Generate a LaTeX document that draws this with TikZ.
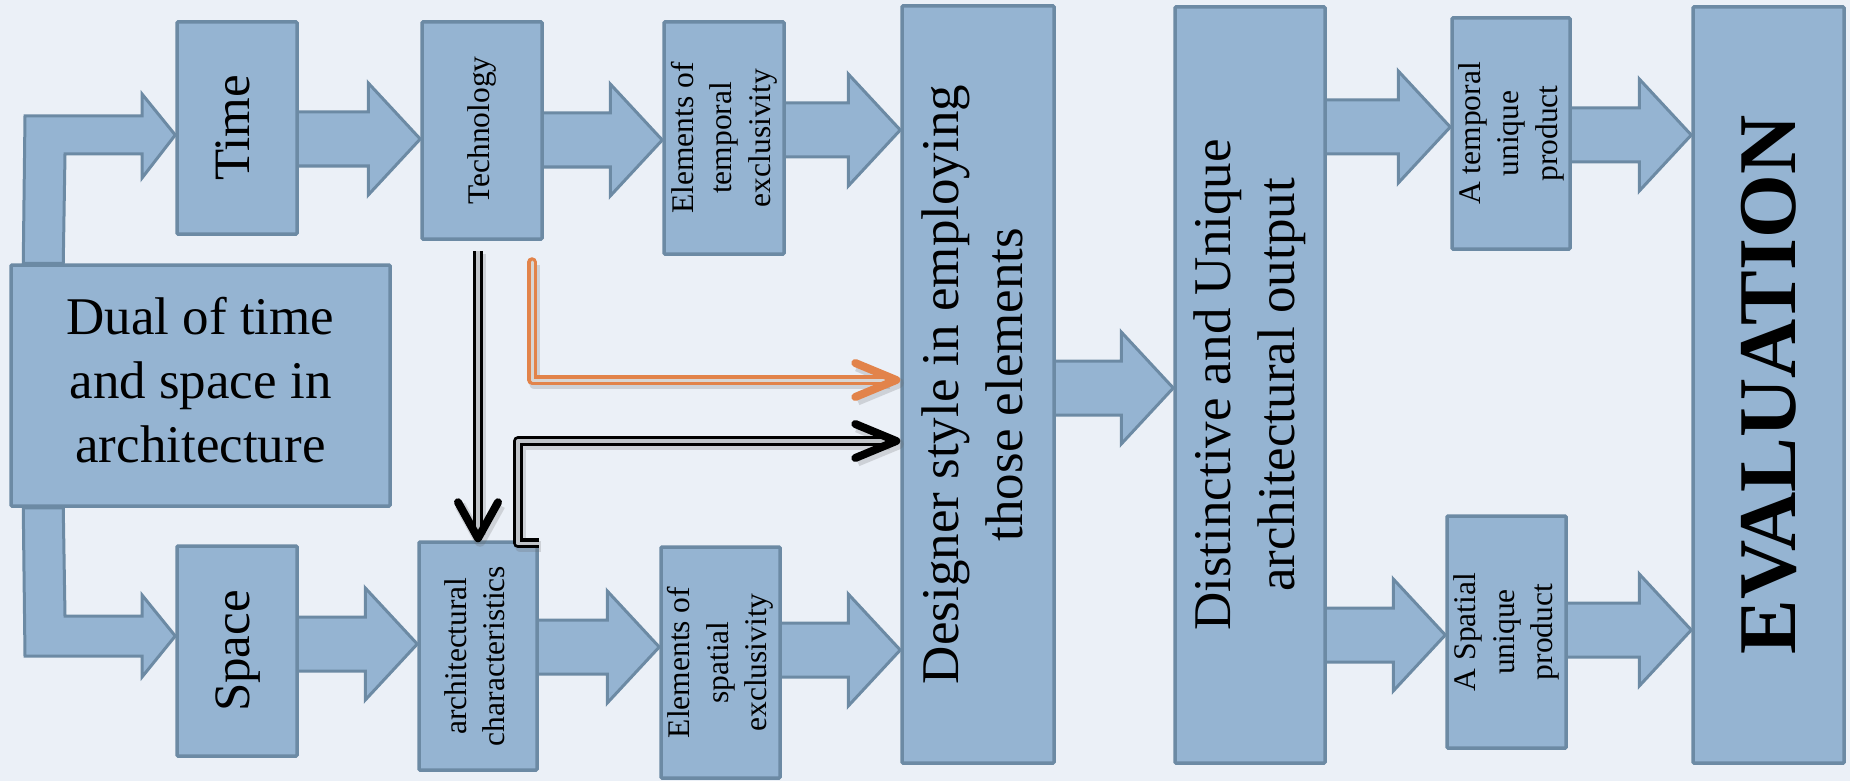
\documentclass[tikz,border=0pt]{standalone}
\usepackage{fontspec}
\setmainfont{Liberation Serif}
\usepackage{graphicx}
\usetikzlibrary{calc}
\definecolor{bgc}{HTML}{EBF0F7}
\definecolor{boxfill}{HTML}{95B4D2}
\definecolor{boxline}{HTML}{6C8AA4}
\definecolor{orng}{HTML}{E2834A}
\definecolor{innergray}{HTML}{BFC3C8}
\definecolor{innerlight}{HTML}{D8D6D4}
\pgfdeclarelayer{back}
\pgfdeclarelayer{arrowsl}
\pgfsetlayers{back,arrowsl,main}
\newcommand{\bigtxt}{\fontsize{53}{64}\selectfont}
\newcommand{\midtxt}{\fontsize{51}{60}\selectfont}
\newcommand{\smalltxt}{\fontsize{31.5}{38.5}\selectfont}
\newcommand{\rlines}[2]{\rotatebox{90}{#1\begin{tabular}{@{}c@{}}#2\end{tabular}}}
\newcommand{\mkbox}[6]{%
  \pgfmathsetmacro\bw{#4-#2}\pgfmathsetmacro\bh{#5-#3}%
  \pgfmathsetmacro\bx{(#2+#4)/2}\pgfmathsetmacro\by{(#3+#5)/2}%
  \node[boxstyle, minimum width=\bw pt, minimum height=\bh pt] (#1) at (\bx,\by) {#6};}
\newcommand{\barrow}[3]{%
  \pgfmathsetmacro\ya{#3-27}\pgfmathsetmacro\yb{#3+27}%
  \pgfmathsetmacro\yc{#3-56}\pgfmathsetmacro\yd{#3+56}%
  \draw[blockarrow] ([xshift=-4pt]#1.east |- 0,\ya) -- ([xshift=-52pt]#2.west |- 0,\ya)
    -- ([xshift=-52pt]#2.west |- 0,\yc) -- (#2.west |- 0,#3)
    -- ([xshift=-52pt]#2.west |- 0,\yd) -- ([xshift=-52pt]#2.west |- 0,\yb)
    -- ([xshift=-4pt]#1.east |- 0,\yb) -- cycle;}
\tikzset{
  boxstyle/.style={draw=boxline, fill=boxfill, line width=3.5pt, rectangle,
    rounded corners=1pt, inner sep=0pt, align=center, text=black},
  blockarrow/.style={draw=boxline, fill=boxfill, line width=3pt, line join=miter},
  dblblack/.style={draw=black, line width=3.3pt, double=innergray, double distance=3.3pt},
  dblorange/.style={draw=orng, line width=3.3pt, double=innerlight, double distance=3pt,
    line join=round, line cap=round},
  vhead/.style={line width=8pt, line cap=round, line join=round},
  shadowline/.style={draw=black!60, opacity=0.22, line width=11pt, line join=round,
    transform canvas={shift={(2pt,-3pt)}}},
}
\begin{document}
\begin{tikzpicture}[x=1pt,y=-1pt]
\begin{pgfonlayer}{back}
  \fill[bgc] (0,0) rectangle (1850,781);
\end{pgfonlayer}
\useasboundingbox (0,0) rectangle (1850,781);

% boxes
\mkbox{time}{177}{22}{297}{234}{\rlines{\midtxt}{Time}}
\mkbox{tech}{422}{22}{542}{239}{\rlines{\smalltxt}{Technology}}
\mkbox{eltemp}{664}{22}{784}{254}{\rlines{\smalltxt}{Elements of\\temporal\\exclusivity}}
\mkbox{designer}{902}{6}{1054}{763}{\rlines{\bigtxt}{Designer style in employing\\those elements}}
\mkbox{distinct}{1175}{7}{1325}{763}{\rlines{\bigtxt}{Distinctive and Unique\\architectural output}}
\mkbox{tprod}{1452}{18}{1570}{249}{\rlines{\smalltxt}{A temporal\\unique\\product}}
\mkbox{eval}{1693}{7}{1844}{763}{\rotatebox{90}{\bfseries\fontsize{82}{90}\selectfont EVALUATION}}
\mkbox{dual}{11}{265}{390}{506}{\bigtxt\begin{tabular}{@{}c@{}}Dual of time\\and space in\\architecture\end{tabular}}
\mkbox{space}{177}{546}{297}{756}{\rlines{\midtxt}{Space}}
\mkbox{arch}{419}{542}{537}{770}{\rlines{\smalltxt}{architectural\\characteristics}}
\mkbox{elspat}{661}{547}{780}{778}{\rlines{\smalltxt}{Elements of\\spatial\\exclusivity}}
\mkbox{sprod}{1447}{516}{1566}{748}{\rlines{\smalltxt}{A Spatial\\unique\\product}}

% block arrows (behind boxes)
\begin{pgfonlayer}{arrowsl}
  \draw[blockarrow] ([xshift=14pt]dual.north west) -- (25,116) -- (142,116) -- (142,94)
    -- (time.west |- 0,135) -- (142,178) -- (142,154) -- (65,154)
    -- ([xshift=54pt]dual.north west) -- cycle;
  \draw[blockarrow] ([xshift=14pt]dual.south west) -- (25,656) -- (142,656) -- (142,677)
    -- (space.west |- 0,636) -- (142,595) -- (142,616) -- (65,616)
    -- ([xshift=54pt]dual.south west) -- cycle;
  \barrow{time}{tech}{139}
  \barrow{tech}{eltemp}{140}
  \barrow{eltemp}{designer}{130}
  \barrow{space}{arch}{644}
  \barrow{arch}{elspat}{647}
  \barrow{elspat}{designer}{650}
  \barrow{designer}{distinct}{388}
  \barrow{distinct}{tprod}{127}
  \barrow{tprod}{eval}{135}
  \barrow{distinct}{sprod}{635}
  \barrow{sprod}{eval}{630}
\end{pgfonlayer}

% double-line connectors
\coordinate (bA) at ([xshift=-4pt,yshift=-10pt]tech.south);
\coordinate (bT) at ([yshift=2pt]bA |- arch.north);
\coordinate (oA) at (532,262);
\coordinate (oT) at ([xshift=-4pt]designer.west |- 0,380);
\coordinate (kA) at ([yshift=-3pt]arch.north east);
\coordinate (kT) at ([xshift=-4pt]designer.west |- 0,441);

% shadows
\draw[shadowline] (bA) -- ([yshift=6pt]bT);
\draw[shadowline] (oA) |- ([xshift=-8pt]oT);
\draw[shadowline] (kA) -- (kA -| 518,0) |- ([xshift=-8pt]kT);
\draw[shadowline] ([xshift=-41pt,yshift=17pt]oT) -- (oT) -- ([xshift=-41pt,yshift=-17pt]oT);
\draw[shadowline] ([xshift=-41pt,yshift=17pt]kT) -- (kT) -- ([xshift=-41pt,yshift=-17pt]kT);
\draw[shadowline] ([xshift=-20pt,yshift=36pt]bT) -- (bT) -- ([xshift=20pt,yshift=36pt]bT);

% black vertical: Technology -> architectural characteristics
\draw[dblblack] (bA) -- ([yshift=6pt]bT);
\draw[vhead, black] ([xshift=-20pt,yshift=36pt]bT) -- (bT) -- ([xshift=20pt,yshift=36pt]bT);

% orange: Technology -> Designer style
\draw[dblorange] (oA) |- ([xshift=-8pt]oT);
\draw[vhead, orng] ([xshift=-41pt,yshift=17pt]oT) -- (oT) -- ([xshift=-41pt,yshift=-17pt]oT);

% black L: architectural characteristics -> Designer style
\draw[dblblack, line join=round] (kA) -- (kA -| 518,0) |- ([xshift=-8pt]kT);
\draw[vhead, black] ([xshift=-41pt,yshift=17pt]kT) -- (kT) -- ([xshift=-41pt,yshift=-17pt]kT);
\end{tikzpicture}
\end{document}
